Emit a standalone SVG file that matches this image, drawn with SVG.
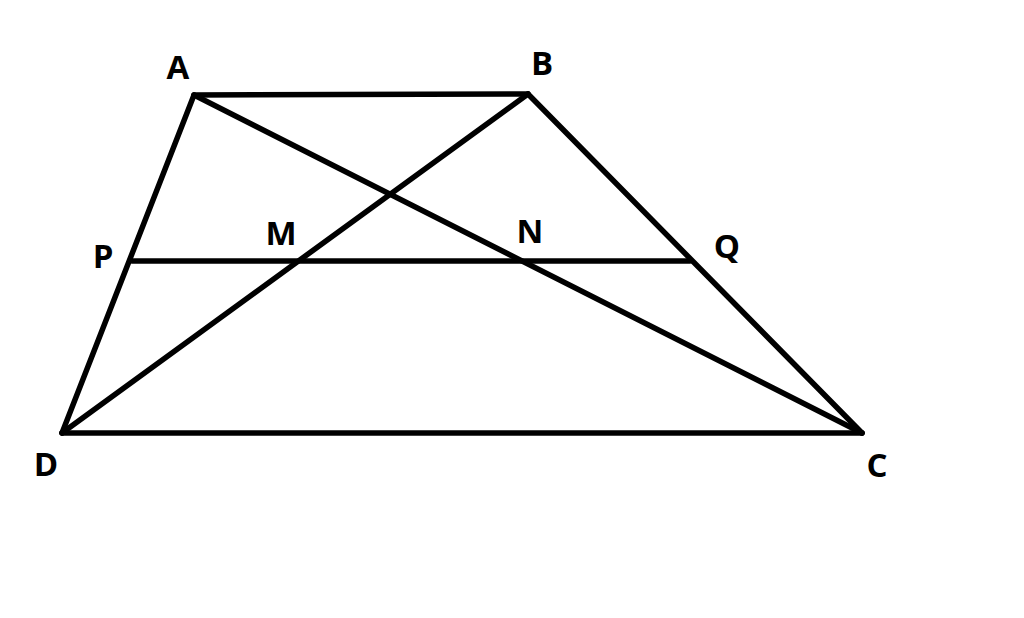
<svg xmlns="http://www.w3.org/2000/svg" width="1024" height="618" viewBox="0 0 1024 618">
<style>
.l{stroke:#000;stroke-width:5.5;stroke-linecap:round;fill:none}
.t{font-family:"Open Sans","Liberation Sans",sans-serif;font-weight:bold;font-size:33px;fill:#000;text-anchor:middle}
</style>
<rect width="1024" height="618" fill="#fff"/>
<g id="connectors">
<line class="l" x1="194" y1="95" x2="528" y2="94"/>
<line class="l" x1="194" y1="95" x2="62" y2="433"/>
<line class="l" x1="528" y1="94" x2="862" y2="433"/>
<line class="l" x1="62" y1="433" x2="862" y2="433"/>
<line class="l" x1="194" y1="95" x2="862" y2="433"/>
<line class="l" x1="528" y1="94" x2="62" y2="433"/>
<line class="l" x1="132" y1="261" x2="690" y2="261"/>
</g>
<g id="A"><text class="t" x="178" y="79">A</text></g>
<g id="B"><text class="t" x="542" y="75">B</text></g>
<g id="P"><text class="t" x="103" y="268">P</text></g>
<g id="M"><text class="t" x="281" y="245">M</text></g>
<g id="N"><text class="t" x="530" y="243">N</text></g>
<g id="Q"><text class="t" x="727" y="258">Q</text></g>
<g id="D"><text class="t" x="46" y="476">D</text></g>
<g id="C"><text class="t" x="877" y="477">C</text></g>
</svg>
